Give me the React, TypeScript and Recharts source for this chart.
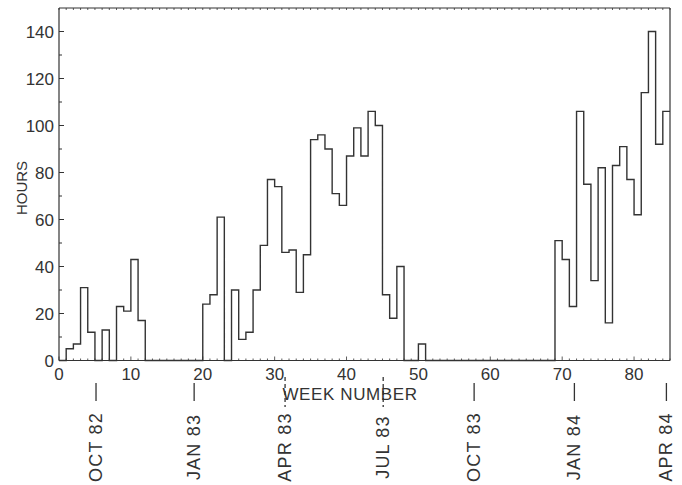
import React from "react";
import { LineChart, Line, XAxis, YAxis } from "recharts";

// hours observed in each week (index = week number)
const hours = [
  0, 5, 7, 31, 12, 0, 13, 0, 23, 21, 43, 17, 0, 0, 0, 0, 0, 0, 0, 0,
  24, 28, 61, 0, 30, 9, 12, 30, 49, 77, 74, 46, 47, 29, 45, 94, 96, 90, 71, 66,
  87, 99, 87, 106, 100, 28, 18, 40, 0, 0, 7, 0, 0, 0, 0, 0, 0, 0, 0, 0,
  0, 0, 0, 0, 0, 0, 0, 0, 0, 51, 43, 23, 106, 75, 34, 82, 16, 83, 91, 77,
  62, 114, 140, 92, 106,
];

const weekLabels = [0, 10, 20, 30, 40, 50, 60, 70, 80];
const yTicks = [0, 10, 20, 30, 40, 50, 60, 70, 80, 90, 100, 110, 120, 130, 140];
const yLabels = [0, 20, 40, 60, 80, 100, 120, 140];

const dateLabels = ["OCT 82", "JAN 83", "APR 83", "JUL 83", "OCT 83", "JAN 84", "APR 84"];
const dateWeeks = [5.15, 18.8, 31.45, 45.1, 57.75, 71.7, 84.5];

const MAX_WEEK = 85;
// stepAfter needs a closing point so the last week gets its full width
const data = [
  ...hours.map((h, i) => ({ week: i, hours: h })),
  { week: MAX_WEEK, hours: hours[hours.length - 1] },
];
const weekTicks = Array.from({ length: MAX_WEEK + 1 }, (_, i) => i);

const PLOT_LEFT = 59;
const PLOT_RIGHT = 670;
const PLOT_TOP = 8;
const PLOT_BOTTOM = 360.5;
const INK = "#333";
const FONT = "'Liberation Sans', Arial, sans-serif";

const LeftTick = (props: any) => {
  const { y, payload } = props;
  const labelled = yLabels.includes(payload.value);
  return (
    <g>
      <line x1={PLOT_LEFT} x2={PLOT_LEFT + (labelled ? 5 : 3)} y1={y} y2={y} stroke={INK} strokeWidth={1} />
      {labelled && (
        <text x={PLOT_LEFT - 5} y={y} dy={6} textAnchor="end" fontSize={17} fill={INK} fontFamily={FONT}>
          {payload.value}
        </text>
      )}
    </g>
  );
};

const RightTick = (props: any) => {
  const { y } = props;
  return <line x1={PLOT_RIGHT} x2={PLOT_RIGHT - 3} y1={y} y2={y} stroke={INK} strokeWidth={1} />;
};

const TopTick = (props: any) => {
  const { x } = props;
  return <line x1={x} x2={x} y1={PLOT_TOP} y2={PLOT_TOP + 2} stroke={INK} strokeWidth={0.8} />;
};

const WeekTick = (props: any) => {
  const { x, payload } = props;
  const v = payload.value;
  const labelled = weekLabels.includes(v);
  return (
    <g>
      <line x1={x} x2={x} y1={PLOT_BOTTOM} y2={PLOT_BOTTOM - (labelled ? 4 : 2)} stroke={INK} strokeWidth={0.8} />
      {labelled && (
        <text x={x} y={380} textAnchor="middle" fontSize={17} fill={INK} fontFamily={FONT}>
          {v}
        </text>
      )}
    </g>
  );
};

const DateTick = (props: any) => {
  const { x, index } = props;
  const dashed = index === 2 || index === 3;
  const cy = 447;
  return (
    <g>
      <line
        x1={x}
        x2={x}
        y1={dashed ? 377 : 383}
        y2={dashed ? 407 : 401}
        stroke={INK}
        strokeWidth={1.3}
        strokeDasharray={dashed ? "4 3" : undefined}
      />
      <text
        x={x}
        y={cy}
        transform={`rotate(-90 ${x} ${cy})`}
        textAnchor="middle"
        dy={6}
        fontSize={18}
        letterSpacing={1.2}
        fill={INK}
        fontFamily={FONT}
      >
        {dateLabels[index]}
      </text>
    </g>
  );
};

export default function App() {
  return (
    <div style={{ position: "absolute", left: 0, top: 0, background: "#fff" }}>
      <LineChart width={682} height={485} data={data} margin={{ top: PLOT_TOP - 1, right: 0, bottom: 0, left: 0 }}>
        <XAxis
          xAxisId="top"
          orientation="top"
          type="number"
          dataKey="week"
          domain={[0, MAX_WEEK]}
          ticks={weekTicks}
          interval={0}
          height={1}
          tick={<TopTick />}
          tickLine={false}
          axisLine={{ stroke: INK, strokeWidth: 1.2 }}
        />
        <XAxis
          xAxisId="a_week"
          type="number"
          dataKey="week"
          domain={[0, MAX_WEEK]}
          allowDataOverflow
          ticks={weekTicks}
          interval={0}
          height={40}
          tick={<WeekTick />}
          tickLine={false}
          axisLine={{ stroke: INK, strokeWidth: 1.2 }}
          label={{
            content: () => (
              <text x={350} y={400} textAnchor="middle" fontSize={17} fill={INK} fontFamily={FONT} letterSpacing={0.6}>
                WEEK NUMBER
              </text>
            ),
          }}
        />
        <XAxis
          xAxisId="b_date"
          type="number"
          dataKey="week"
          domain={[0, MAX_WEEK]}
          ticks={dateWeeks}
          interval={0}
          height={84.5}
          tick={<DateTick />}
          tickLine={false}
          axisLine={false}
        />
        <YAxis
          yAxisId="left"
          domain={[0, 150]}
          ticks={yTicks}
          interval={0}
          width={PLOT_LEFT}
          tick={<LeftTick />}
          tickLine={false}
          axisLine={{ stroke: INK, strokeWidth: 1.2 }}
          label={{
            content: () => (
              <text
                x={22}
                y={188}
                transform="rotate(-90 22 188)"
                textAnchor="middle"
                dy={5}
                fontSize={15}
                fill={INK}
                fontFamily={FONT}
              >
                HOURS
              </text>
            ),
          }}
        />
        <YAxis
          yAxisId="right"
          orientation="right"
          domain={[0, 150]}
          ticks={yTicks}
          interval={0}
          width={682 - PLOT_RIGHT}
          tick={<RightTick />}
          tickLine={false}
          axisLine={{ stroke: INK, strokeWidth: 1.2 }}
        />
        <Line
          xAxisId="a_week"
          yAxisId="left"
          type="stepAfter"
          dataKey="hours"
          stroke={INK}
          strokeWidth={1.4}
          dot={false}
          activeDot={false}
          isAnimationActive={false}
        />
      </LineChart>
    </div>
  );
}
